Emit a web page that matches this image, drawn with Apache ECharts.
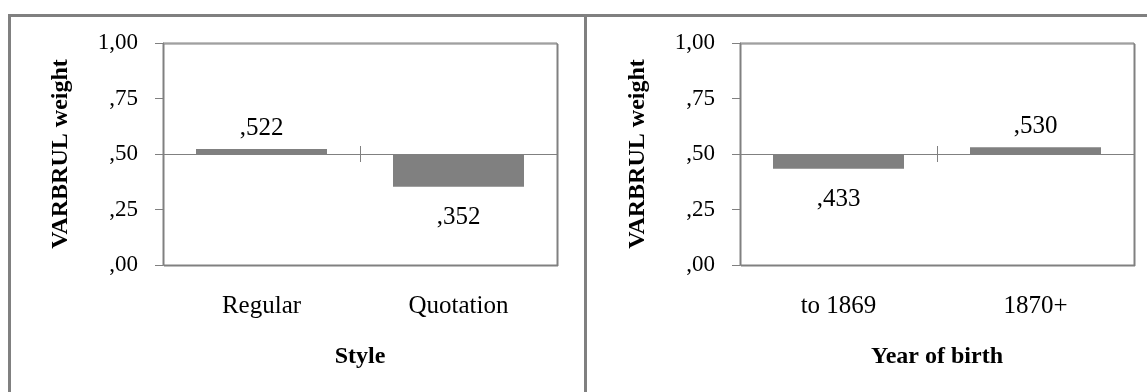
<!DOCTYPE html>
<html>
<head>
<meta charset="utf-8">
<script src="https://cdn.jsdelivr.net/npm/echarts@6/dist/echarts.min.js"></script>
<style>
    body { margin: 0; background: #fff; width: 1147px; height: 392px; overflow: hidden; position: relative; }
    #left { position: absolute; left: 8px; top: 14px; width: 573px; height: 400px;
            border: 3px solid #808080; border-bottom: none; }
    #right { position: absolute; left: 587px; top: 14px; width: 600px; height: 400px;
             border-top: 3px solid #808080; }
</style>
</head>
<body>
<div id="left"></div>
<div id="right"></div>
<script>
// data
var styleCats = ['Regular', 'Quotation'];
var styleVals = [0.522, 0.352];
var birthCats = ['to 1869', '1870+'];
var birthVals = [0.433, 0.530];
var tickLabels = [',00', ',25', ',50', ',75', '1,00'];
var BASE = 0.5;   // bars grow from the ,50 line

var FONT = 'Liberation Serif';
var GREY = '#808080';
var PLOT_H = 222;

function fmtWeight(v) {
    return v.toFixed(3).replace(/^0\./, ',');
}

function buildOption(cats, vals, axisName, gridLeft) {
    var axisBase = {
        type: 'category',
        data: cats,
        boundaryGap: true
    };
    return {
        animation: false,
        grid: {
            left: gridLeft,
            top: 26,
            width: 394,
            height: PLOT_H,
            show: true,
            backgroundColor: '#fff',
            borderColor: GREY,
            borderWidth: 1,
            shadowColor: GREY,
            shadowOffsetX: 1,
            shadowOffsetY: 1,
            shadowBlur: 0
        },
        xAxis: [
            // labels + name along the bottom
            Object.assign({}, axisBase, {
                position: 'bottom',
                axisLine: { show: false, onZero: false },
                axisTick: { show: false },
                axisLabel: { fontFamily: FONT, fontSize: 25, color: '#000', margin: 29 },
                name: axisName,
                nameLocation: 'middle',
                nameGap: 80,
                nameTextStyle: { fontFamily: FONT, fontSize: 24, fontWeight: 'bold', color: '#000' }
            }),
            // crossing line at ,50 with ticks down
            Object.assign({}, axisBase, {
                position: 'bottom',
                axisLine: { show: true, onZero: true, lineStyle: { color: GREY, width: 1 } },
                axisTick: { show: true, length: 8, lineStyle: { color: GREY } },
                axisLabel: { show: false }
            }),
            // upper half of the crossing ticks, pulled down to the ,50 line
            Object.assign({}, axisBase, {
                position: 'top',
                offset: -PLOT_H / 2,
                axisLine: { show: false, onZero: false },
                axisTick: { show: true, length: 8, lineStyle: { color: GREY } },
                axisLabel: { show: false }
            })
        ],
        yAxis: {
            type: 'value',
            min: -0.5,
            max: 0.5,
            interval: 0.25,
            axisLine: { show: true, lineStyle: { color: GREY } },
            axisTick: { show: true, length: 8, lineStyle: { color: GREY } },
            splitLine: { show: false },
            axisLabel: {
                fontFamily: FONT, fontSize: 23, color: '#000', margin: 25,
                formatter: function (v) {
                    return tickLabels[Math.round((v + BASE) / 0.25)];
                }
            },
            name: 'VARBRUL weight',
            nameLocation: 'middle',
            nameGap: 90,
            nameTextStyle: { fontFamily: FONT, fontSize: 24, fontWeight: 'bold', color: '#000' }
        },
        series: [{
            type: 'bar',
            xAxisIndex: 1,
            barCategoryGap: '33.5%',
            itemStyle: { color: GREY },
            label: {
                show: true,
                fontFamily: FONT,
                fontSize: 25,
                color: '#000',
                formatter: function (p) { return fmtWeight(vals[p.dataIndex]); }
            },
            data: vals.map(function (v) {
                var up = v >= BASE;
                return {
                    value: v - BASE,
                    label: { position: up ? 'top' : 'bottom', distance: up ? 8 : 18 }
                };
            })
        }]
    };
}

var leftChart = echarts.init(document.getElementById('left'));
leftChart.setOption(buildOption(styleCats, styleVals, 'Style', 152));

var rightChart = echarts.init(document.getElementById('right'));
rightChart.setOption(buildOption(birthCats, birthVals, 'Year of birth', 153));
</script>
</body>
</html>
